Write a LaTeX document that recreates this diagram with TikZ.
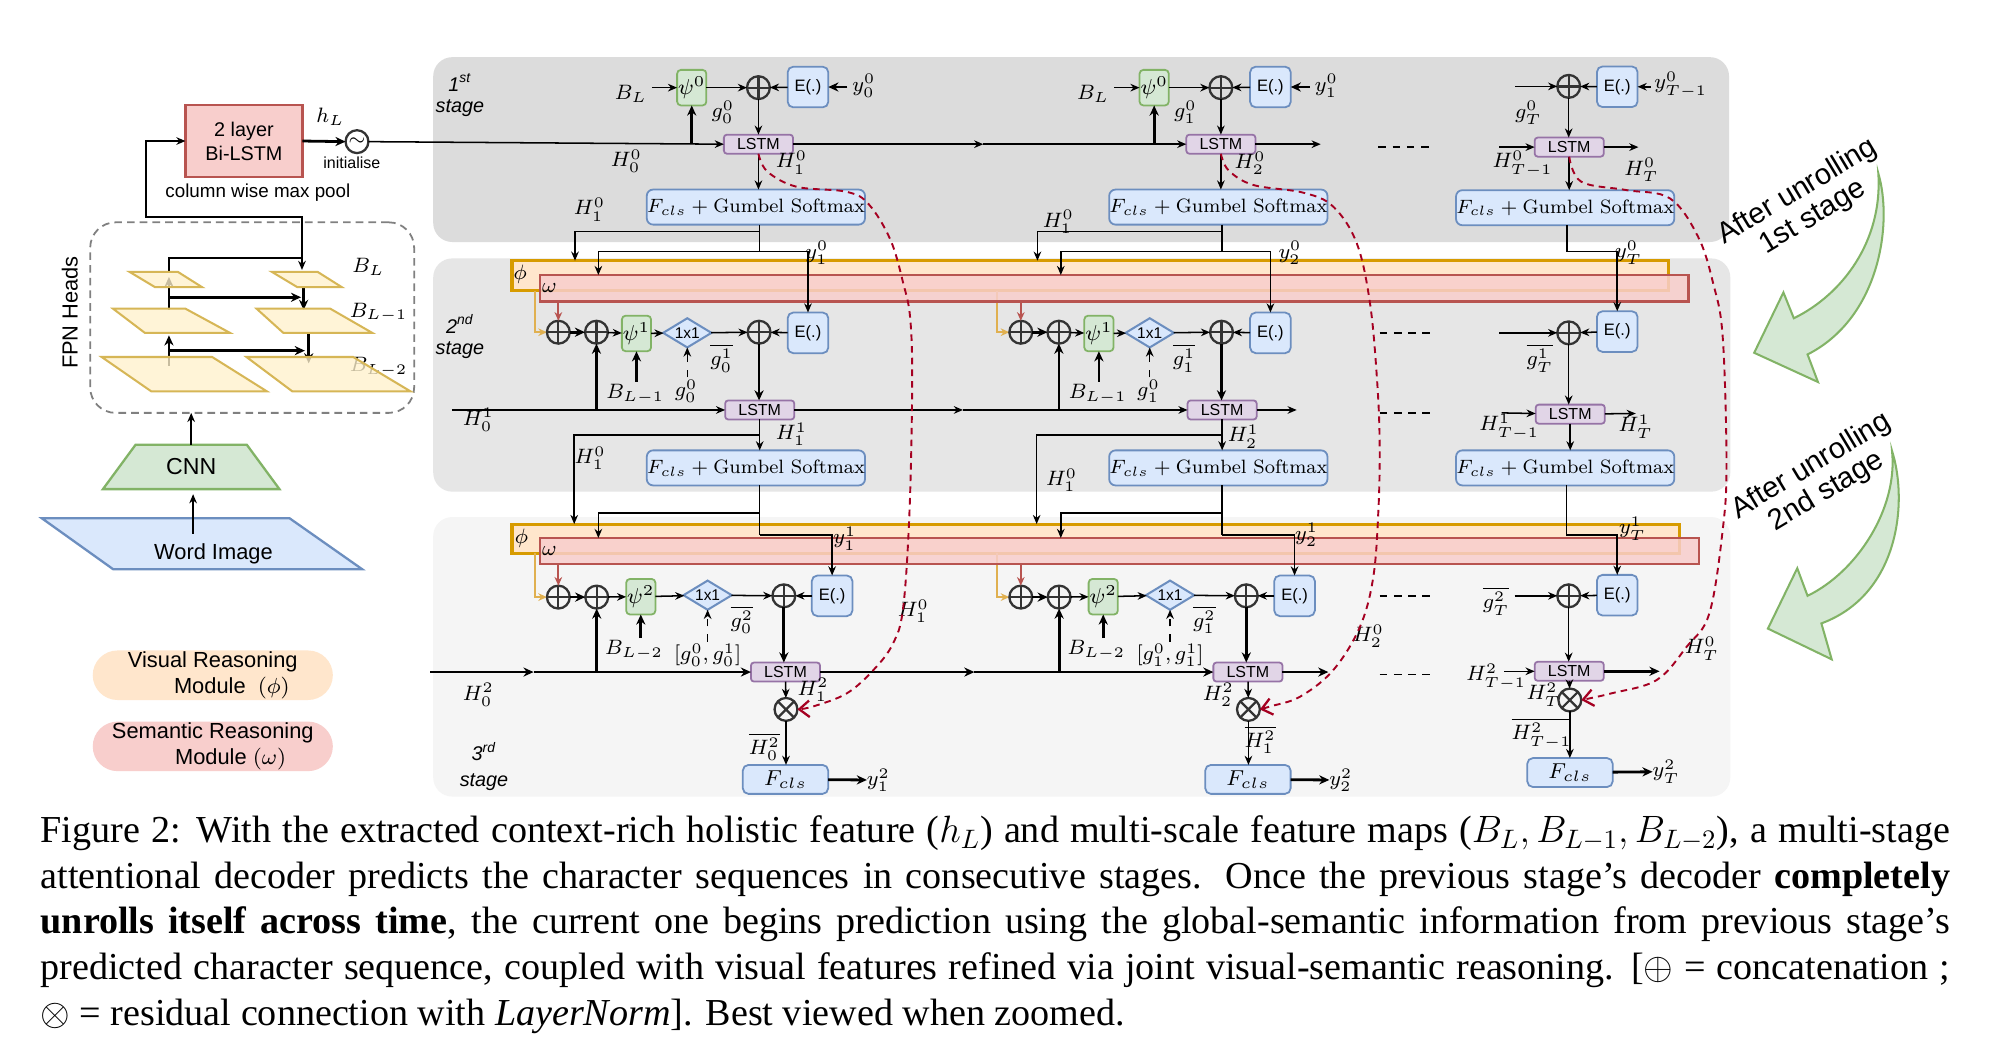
\documentclass[tikz,border=0pt]{standalone}
\usepackage{fix-cm}
\usepackage{fontspec}
\setsansfont{Liberation Sans}
\newfontfamily\capfont[Ligatures=TeX]{Liberation Serif}
\usetikzlibrary{arrows.meta,shapes.geometric}
\definecolor{stgA}{HTML}{DCDCDC}
\definecolor{stgB}{HTML}{E6E6E6}
\definecolor{stgC}{HTML}{F5F5F5}
\definecolor{grnF}{HTML}{D5E8D4}
\definecolor{grnD}{HTML}{82B366}
\definecolor{bluF}{HTML}{DAE8FC}
\definecolor{bluD}{HTML}{6C8EBF}
\definecolor{purF}{HTML}{E1D5E7}
\definecolor{purD}{HTML}{9673A6}
\definecolor{orgF}{HTML}{FFE6CC}
\definecolor{orgD}{HTML}{D79B00}
\definecolor{redF}{HTML}{F8CECC}
\definecolor{redD}{HTML}{B85450}
\definecolor{ylwF}{HTML}{FFF2CC}
\definecolor{ylwD}{HTML}{D6B656}
\definecolor{orL}{HTML}{E0B050}
\definecolor{dred}{HTML}{A50021}
\definecolor{cirD}{HTML}{333333}
\pgfdeclarelayer{bgl}\pgfdeclarelayer{phil}\pgfdeclarelayer{orl}\pgfdeclarelayer{oml}
\pgfsetlayers{bgl,phil,orl,oml,main}
\tikzset{
  every node/.style={inner sep=0pt,outer sep=0pt},
  ln/.style={line width=0.6pt},
  arr/.style={line width=0.6pt,-{Stealth[length=3.6pt,width=3pt]}},
  tarr/.style={line width=1.1pt,-{Stealth[length=4pt,width=3.6pt]}},
  orarr/.style={draw=orL,line width=0.8pt,-{Stealth[length=3.4pt,width=3pt]}},
  redarr/.style={draw=redD,line width=0.8pt,-{Stealth[length=3.4pt,width=3pt]}},
  rdash/.style={draw=dred,line width=0.75pt,dash pattern=on 2.6pt off 2pt,-{Straight Barb[length=4pt,width=6.5pt,line width=0.9pt]}},
  psibox/.style={draw=grnD,fill=grnF,line width=0.7pt,rounded corners=1.5pt,minimum width=11.5pt,minimum height=14pt,font=\fontsize{8.5}{10}\selectfont},
  ebox/.style={draw=bluD,fill=bluF,line width=0.7pt,rounded corners=2.2pt,minimum width=16pt,minimum height=16pt,font=\sffamily\fontsize{6.5}{7}\selectfont},
  lstm/.style={draw=purD,fill=purF,line width=0.7pt,rounded corners=1.2pt,minimum width=27.2pt,minimum height=7.5pt,font=\sffamily\fontsize{6.3}{7}\selectfont},
  fgs/.style={draw=bluD,fill=bluF,line width=0.7pt,rounded corners=2.5pt,minimum width=85.5pt,minimum height=13.8pt,font=\fontsize{7.6}{9}\selectfont},
  fcls/.style={draw=bluD,fill=bluF,line width=0.7pt,rounded corners=2.2pt,minimum width=33.6pt,minimum height=11.4pt,font=\fontsize{8.5}{10}\selectfont},
  onebyone/.style={diamond,draw=bluD,fill=bluF,line width=0.8pt,aspect=1.65,minimum width=19pt,minimum height=11.5pt,font=\sffamily\fontsize{6.1}{7}\selectfont},
  opl/.style={circle,draw=cirD,line width=0.9pt,minimum size=9pt,path picture={\draw[cirD,line width=0.9pt] (path picture bounding box.north)--(path picture bounding box.south) (path picture bounding box.west)--(path picture bounding box.east);}},
  otl/.style={circle,draw=cirD,line width=0.9pt,minimum size=9pt,path picture={\draw[cirD,line width=0.9pt] (path picture bounding box.north west)--(path picture bounding box.south east) (path picture bounding box.north east)--(path picture bounding box.south west);}},
  lab/.style={font=\fontsize{8.2}{9.5}\selectfont},
  stagelab/.style={align=center,font=\sffamily\itshape\fontsize{7.8}{8.4}\selectfont},
  fmap/.style={draw=ylwD,fill=ylwF,line width=0.8pt,fill opacity=0.78},
  phib/.style={draw=orgD,fill=orgF,line width=1.2pt,anchor=north west},
  omb/.style={draw=redD,fill=redF,fill opacity=0.85,line width=1pt,anchor=north west},
  sanslab/.style={font=\sffamily\fontsize{8.6}{10}\selectfont},
  dots/.style={line width=0.7pt,dash pattern=on 3pt off 2.6pt},
}
\newcommand\deccol[3]{%
 \node[psibox] (#1p0) at (544.5,69) {$\psi^0$};
 \node[opl] (#1o0) at (597,69) {};
 \node[ebox] (#1e0) at (636,68.5) {E(.)};
 \node[lstm] (#1l0) at (597,113.5) {LSTM};
 \node[fgs] (#1f0) at (595,163) {$F_{cls}+\mathrm{Gumbel\ Softmax}$};
 \node[lab] (#1BL) at (496.5,74) {$B_L$};
 \node[lab] (#1y0) at (680,67.5) {$y_#2^0$};
 \node[lab] (#1g0) at (569,88.5) {$g_#2^0$};
 \node[opl] (#1a1) at (439.5,261.5) {};
 \node[opl] (#1b1) at (469.5,261.5) {};
 \node[psibox] (#1p1) at (501,262.5) {$\psi^1$};
 \node[onebyone] (#1d1) at (541,262) {1x1};
 \node[opl] (#1o1) at (597.5,261.5) {};
 \node[ebox] (#1e1) at (636,262) {E(.)};
 \node[lstm] (#1l1) at (598,322.7) {LSTM};
 \node[fgs] (#1f1) at (595,368.3) {$F_{cls}+\mathrm{Gumbel\ Softmax}$};
 \node[lab] (#1B1) at (500,310) {$B_{L-1}$};
 \node[lab] (#1g1) at (568,282) {$\overline{g_#2^1}$};
 \node[lab] (#1h1) at (540,308) {$g_#2^0$};
 \node[opl] (#1a2) at (439.5,470) {};
 \node[opl] (#1b2) at (469.7,470) {};
 \node[psibox] (#1p2) at (504.4,469.7) {$\psi^2$};
 \node[onebyone] (#1d2) at (557,468.5) {1x1};
 \node[opl] (#1o2) at (617,469) {};
 \node[ebox] (#1e2) at (655,469) {E(.)};
 \node[lstm] (#1l2) at (618.3,529) {LSTM};
 \node[otl] (#1t2) at (618.7,558.4) {};
 \node[fcls] (#1f2) at (618.3,613.5) {$F_{cls}$};
 \node[lab] (#1B2) at (499,512) {$B_{L-2}$};
 \node[lab] (#1g2) at (584,488) {$\overline{g_#2^2}$};
 \node[lab] (#1h2) at (557,516) {$[g_#2^0,g_#2^1]$};
 \node[lab] (#1y2) at (691.4,614) {$y_#3^2$};
 % stage 1 connectors
 \draw[arr,shorten <=2pt] (#1p0.west -| #1BL.east) -- (#1p0.west);
 \draw[arr] (#1p0) -- (#1o0);
 \draw[arr] (#1e0) -- (#1o0);
 \draw[tarr,shorten <=2pt] (#1e0.east -| #1y0.west) -- (#1e0.east);
 \draw[arr] (#1o0) -- (#1l0);
 \draw[tarr] (#1p0 |- #1l0) -- (#1p0);
 \draw[arr] (#1l0.south) -- (#1l0.south |- #1f0.north);
 \coordinate (#1j1) at (598,182.4); \coordinate (#1j2) at (598,198);
 \coordinate (#1u1) at (452.6,205.2); \coordinate (#1w1) at (471,216.5);
 \draw[ln] (#1j2 |- #1f0.south) -- (#1j2);
 \draw[arr] (#1j1) -| (#1u1);
 \draw[arr] (#1j2) -| (#1w1);
 \draw[arr] (#1j2) -| (#1e1.north);
 % stage 2 connectors
 \coordinate (#1q1) at (421,228.8); \coordinate (#1r1) at (439.5,237.5);
 \begin{pgfonlayer}{orl}\draw[orarr] (#1q1) |- (#1a1);\end{pgfonlayer}
 \draw[redarr] (#1r1) -- (#1a1);
 \draw[tarr] (#1a1) -- (#1b1);
 \draw[arr] (#1b1) -- (#1p1);
 \draw[arr] (#1p1) -- (#1d1);
 \draw[arr] (#1d1) -- (#1o1);
 \draw[arr] (#1e1) -- (#1o1);
 \draw[tarr] (#1o1) -- (#1o1 |- #1l1.north);
 \draw[arr] (#1l1.south) -- (#1l1.south |- #1f1.north);
 \draw[tarr] (#1b1 |- #1l1) -- (#1b1);
 \draw[tarr,shorten <=1pt] (#1p1 |- #1B1.north) -- (#1p1);
 \draw[arr,dashed,shorten <=1pt] (#1d1 |- #1h1.north) -- (#1d1);
 \coordinate (#1k1) at (598,342.4); \coordinate (#1u2) at (452,412.5);
 \draw[arr] (#1k1) -| (#1u2);
 \coordinate (#1k2) at (598,404); \coordinate (#1k3) at (598,421); \coordinate (#1w2) at (471,423.5);
 \draw[ln] (#1k3 |- #1f1.south) -- (#1k3);
 \draw[arr] (#1k2) -| (#1w2);
 \draw[arr] (#1k3) -| (#1e2.north);
 % stage 3 connectors
 \coordinate (#1q2) at (421,435.6); \coordinate (#1r2) at (439.5,444);
 \begin{pgfonlayer}{orl}\draw[orarr] (#1q2) |- (#1a2);\end{pgfonlayer}
 \draw[redarr] (#1r2) -- (#1a2);
 \draw[tarr] (#1a2) -- (#1b2);
 \draw[arr] (#1b2) -- (#1p2);
 \draw[arr] (#1p2) -- (#1d2);
 \draw[arr] (#1d2) -- (#1o2);
 \draw[arr] (#1e2) -- (#1o2);
 \draw[tarr] (#1o2) -- (#1o2 |- #1l2.north);
 \draw[tarr] (#1b2 |- #1l2) -- (#1b2);
 \draw[tarr,shorten <=1pt] (#1p2 |- #1B2.north) -- (#1p2);
 \draw[arr,dashed,shorten <=1pt] (#1d2 |- #1h2.north) -- (#1d2);
 \draw[arr] (#1l2) -- (#1t2);
 \draw[arr] (#1t2) -- (#1t2 |- #1f2.north);
 \draw[tarr] (#1f2) -- (#1y2);
}
\begin{document}
\begin{tikzpicture}[x=0.5pt,y=-0.5pt]
\useasboundingbox (0,0) rectangle (1568,819);
\begin{pgfonlayer}{bgl}
 \fill[white] (0,0) rectangle (1568,819);
 \fill[stgA,rounded corners=7.5pt] (341,45) rectangle (1361,190.5);
 \fill[stgB,rounded corners=7.5pt] (341,203.4) rectangle (1362,387);
 \fill[stgC,rounded corners=7.5pt] (341,407) rectangle (1362,627);
\end{pgfonlayer}
\begin{pgfonlayer}{phil}
 \node[phib,minimum width=455.25pt,minimum height=11.8pt] (phiA) at (403,205.2) {};
 \node[phib,minimum width=459.4pt,minimum height=11.55pt] (phiB) at (403,412.5) {};
\end{pgfonlayer}
\begin{pgfonlayer}{oml}
 \node[omb,minimum width=452pt,minimum height=10.5pt] (omA) at (425,216.5) {};
 \node[omb,minimum width=456.25pt,minimum height=10.25pt] (omB) at (425,423.5) {};
\end{pgfonlayer}
\node[lab] (phiAl) at (409.5,216) {$\phi$};
\node[lab] (omAl) at (432.5,226.5) {$\omega$};
\node[lab] (phiBl) at (410.5,423.5) {$\phi$};
\node[lab] (omBl) at (432.5,433.5) {$\omega$};

% ---------- left part ----------
\node[draw=gray,dash pattern=on 3pt off 2pt,line width=0.7pt,rounded corners=10pt,minimum width=127.5pt,minimum height=75pt] (fpn) at (198.5,250) {};
\node[draw=redD,fill=redF,line width=1pt,minimum width=46pt,minimum height=28.5pt,align=center,font=\sffamily\fontsize{7.8}{9.5}\selectfont] (bilstm) at (192,111) {2 layer\\Bi-LSTM};
\node[circle,draw=cirD,line width=0.9pt,minimum size=9pt,font=\fontsize{8}{8}\selectfont] (init) at (281,111.5) {$\sim$};
\node[font=\sffamily\fontsize{6.3}{7}\selectfont] (initlab) at (277,128) {initialise};
\node[lab] (hL) at (260,92) {$h_L$};
\node[font=\sffamily\fontsize{7.4}{9}\selectfont] (cwmp) at (203,152) {column wise max pool};
\node[sanslab,rotate=90] (fpnl) at (55,246) {FPN Heads};
\draw[tarr] (bilstm.east) -- (init.west);
\coordinate (cwp) at (115,171);
\coordinate (blr) at (237.7,212.5);
\draw[line width=0.8pt,{Stealth[length=3.6pt,width=3pt]}-{Stealth[length=3.6pt,width=3pt]}] (bilstm.west) -| (cwp) -| (blr);
% FPN arrows
\coordinate (fa0) at (133,214); \coordinate (fa1) at (133,203); \coordinate (fa2) at (237.7,203);
\draw[line width=0.8pt] (fa0) -- (fa1) -- (fa2);
\coordinate (fb0) at (133,244); \coordinate (fb1) at (133,218);
\draw[tarr] (fb0) -- (fb1);
\coordinate (fc0) at (133,234); \coordinate (fc1) at (237,234);
\draw[tarr] (fc0) -- (fc1);
\coordinate (fd0) at (239,226); \coordinate (fd1) at (239,244);
\draw[tarr] (fd0) -- (fd1);
\coordinate (fe0) at (133,288); \coordinate (fe1) at (133,264);
\draw[tarr] (fe0) -- (fe1);
\coordinate (ff0) at (133,276); \coordinate (ff1) at (240,276);
\draw[tarr] (ff0) -- (ff1);
\coordinate (fg0) at (243,262); \coordinate (fg1) at (243,286);
\draw[tarr] (fg0) -- (fg1);
\node[lab] (lBL) at (290,210) {$B_L$};
\node[lab] (lBL1) at (298,246) {$B_{L-1}$};
\node[lab] (lBL2) at (298,289) {$B_{L-2}$};
\filldraw[fmap] (102,214) -- (140,214) -- (159,226) -- (122,226) -- cycle;
\filldraw[fmap] (89,243) -- (146,243) -- (181,262) -- (114,262) -- cycle;
\filldraw[fmap] (80,281) -- (167,281) -- (210,308) -- (119,308) -- cycle;
\filldraw[fmap] (214,214) -- (250,214) -- (269,226) -- (234,226) -- cycle;
\filldraw[fmap] (202,243) -- (260,243) -- (293,262) -- (223,262) -- cycle;
\filldraw[fmap] (194,281) -- (278,281) -- (323,308) -- (230,308) -- cycle;
% CNN & word image
\node[trapezium,trapezium left angle=48,trapezium right angle=48,trapezium stretches=true,minimum width=69.5pt,minimum height=17.5pt,draw=grnD,fill=grnF,line width=0.9pt,font=\sffamily\fontsize{9.1}{10}\selectfont] (cnn) at (150.5,367.5) {CNN};
\draw[arr] (cnn.north) -- (cnn.north |- fpn.south);
\filldraw[draw=bluD,fill=bluF,line width=0.9pt] (33,408) -- (228,408) -- (285,448) -- (89,448) -- cycle;
\node[sanslab] (wimg) at (168,436) {Word Image};
\coordinate (wimgc) at (152,420);
\draw[arr,shorten >=2pt] (wimgc) -- (wimgc |- cnn.south);
\node[fill=orgF,rounded corners=9.75pt,minimum width=94.5pt,minimum height=19.5pt,align=center,font=\sffamily\fontsize{8.6}{10}\selectfont] (vrm) at (167.5,531.5) {Visual Reasoning\\\hspace*{15pt}Module~~$(\phi)$};
\node[fill=redF,rounded corners=9.75pt,minimum width=94.5pt,minimum height=19.5pt,align=center,font=\sffamily\fontsize{8.6}{10}\selectfont] (srm) at (167.5,587.5) {Semantic Reasoning\\\hspace*{14pt}Module~$(\omega)$};

% stage labels
\node[stagelab] (st1) at (362,75) {1\textsuperscript{st}\\stage};
\node[stagelab] (st2) at (362,265) {2\textsuperscript{nd}\\stage};
\node[stagelab,font=\sffamily\itshape\fontsize{7.8}{10}\selectfont] (st3) at (381,603) {3\textsuperscript{rd}\\stage};

% ---------- columns ----------
\deccol{a}{0}{1}
\begin{scope}[shift={(364,0)}]
\deccol{b}{1}{2}
\end{scope}

% H lines
\draw[arr] (init.east) -- (al0.west);
\coordinate (hm1) at (774,113.5);
\draw[arr] (al0) -- (hm1); \draw[arr] (hm1) -- (bl0);
\coordinate (bo0) at (1039.6,113.5); \draw[arr] (bl0) -- (bo0);
\coordinate (hs2) at (355.6,322.7); \draw[arr] (hs2) -- (al1);
\coordinate (hm2) at (758,322.7);
\draw[arr] (al1) -- (hm2); \draw[arr] (hm2) -- (bl1);
\coordinate (bo1) at (1020.7,322.7); \draw[arr] (bl1) -- (bo1);
\coordinate (hs3) at (338.5,529); \coordinate (hm3a) at (420,529);
\draw[tarr] (hs3) -- (hm3a); \draw[tarr] (hm3a) -- (al2);
\coordinate (hm3) at (767,529);
\draw[tarr] (al2) -- (hm3); \draw[tarr] (hm3) -- (bl2);
\coordinate (bo2) at (1045.6,529); \draw[tarr] (bl2) -- (bo2);

% column labels
\node[lab] (aH00) at (493,127) {$H_0^0$};
\node[lab] (aH10) at (623,128) {$H_1^0$};
\node[lab] (aH10b) at (464,165) {$H_1^0$};
\node[lab] (ay10) at (643,199) {$y_1^0$};
\node[lab] (aH01) at (376.5,330.6) {$H_0^1$};
\node[lab] (aH11) at (623,342) {$H_1^1$};
\node[lab] (aH10c) at (464.5,360.8) {$H_1^0$};
\node[lab] (ay11) at (665,424) {$y_1^1$};
\node[lab] (aH02) at (376.5,547) {$H_0^2$};
\node[lab] (aH12) at (640,543) {$H_1^2$};
\node[lab] (aHb) at (601.7,587.8) {$\overline{H_0^2}$};
\node[lab] (aHc) at (719,481) {$H_1^0$};
\node[lab] (bH20) at (984,128.6) {$H_2^0$};
\node[lab] (bH10b) at (833,174.5) {$H_1^0$};
\node[lab] (by20) at (1015.4,199) {$y_2^0$};
\node[lab] (bH21) at (978.7,343.7) {$H_2^1$};
\node[lab] (bH10c) at (835.7,378) {$H_1^0$};
\node[lab] (by21) at (1028.5,421) {$y_2^1$};
\node[lab] (bH22) at (959,547) {$H_2^2$};
\node[lab] (bHb) at (991.8,582.5) {$\overline{H_1^2}$};
\node[lab] (bHc) at (1077,501) {$H_2^0$};

% ---------- column T ----------
\node[opl] (to0) at (1234.8,68) {};
\node[ebox] (te0) at (1273,68.3) {E(.)};
\node[lab] (ty0) at (1323,67) {$y_{T-1}^0$};
\node[lab] (tg0) at (1203,89) {$g_T^0$};
\node[lstm] (tl0) at (1235.2,115.8) {LSTM};
\node[lab] (tH0) at (1198.5,129) {$H_{T-1}^0$};
\node[lab] (tHT0) at (1292,134) {$H_T^0$};
\node[fgs] (tf0) at (1232,163.5) {$F_{cls}+\mathrm{Gumbel\ Softmax}$};
\node[lab] (tyT0) at (1282,199) {$y_T^0$};
\node[opl] (to1) at (1234.8,262) {};
\node[ebox] (te1) at (1273,261) {E(.)};
\node[lab] (tg1) at (1212,282) {$\overline{g_T^1}$};
\node[lstm] (tl1) at (1236,326) {LSTM};
\node[lab] (tH1) at (1188,336) {$H_{T-1}^1$};
\node[lab] (tHT1) at (1287.6,336) {$H_T^1$};
\node[fgs] (tf1) at (1232,368.3) {$F_{cls}+\mathrm{Gumbel\ Softmax}$};
\node[lab] (tyT1) at (1285,416) {$y_T^1$};
\node[opl] (to2) at (1234.8,469) {};
\node[ebox] (te2) at (1273,468.5) {E(.)};
\node[lab] (tg2) at (1177.7,473) {$\overline{g_T^2}$};
\node[lstm] (tl2) at (1235.2,528.4) {LSTM};
\node[lab] (tH2) at (1177.7,532.7) {$H_{T-1}^2$};
\node[otl] (tt2) at (1235.7,551) {};
\node[lab] (tHT2) at (1215,547) {$H_T^2$};
\node[lab] (tHb) at (1213.4,577.3) {$\overline{H_{T-1}^2}$};
\node[fcls] (tf2) at (1235.8,608.1) {$F_{cls}$};
\node[lab] (tyT2) at (1311.4,607.4) {$y_T^2$};
\node[lab] (tHc) at (1339.6,510.4) {$H_T^0$};
% T connectors
\draw[arr,shorten <=1.5pt] (te0.east -| ty0.west) -- (te0.east);
\draw[arr] (te0) -- (to0);
\coordinate (tin0) at (1192.6,68); \draw[arr] (tin0) -- (to0);
\draw[arr] (to0) -- (to0 |- tl0.north);
\coordinate (thin0) at (1180,115.8); \draw[arr] (thin0) -- (tl0);
\coordinate (thout0) at (1289.7,115.8); \draw[arr] (tl0) -- (thout0);
\draw[arr] (tl0.south) -- (tl0.south |- tf0.north);
\coordinate (tj0) at (1233.6,198);
\draw[arr] (tj0 |- tf0.south) -- (tj0) -| (te1.north);
\draw[arr] (te1) -- (to1);
\coordinate (tin1) at (1180,262); \draw[arr] (tin1) -- (to1);
\draw[arr] (to1) -- (to1 |- tl1.north);
\coordinate (thin1) at (1182,325); \draw[arr] (thin1) -- (tl1);
\coordinate (thout1) at (1287.6,325.5); \draw[arr] (tl1) -- (thout1);
\draw[arr] (tl1.south) -- (tl1.south |- tf1.north);
\coordinate (tj1) at (1233,421);
\draw[arr] (tj1 |- tf1.south) -- (tj1) -| (te2.north);
\draw[arr] (te2) -- (to2);
\draw[arr,shorten <=2pt] (tg2.east |- to2) -- (to2);
\draw[arr] (to2) -- (to2 |- tl2.north);
\coordinate (thin2) at (1184,528.4); \draw[arr] (thin2) -- (tl2);
\coordinate (thout2) at (1306.3,528.4); \draw[tarr] (tl2) -- (thout2);
\draw[arr] (tl2) -- (tt2);
\draw[arr] (tt2) -- (tt2 |- tf2.north);
\draw[tarr] (tf2) -- (tyT2);

% ellipsis dashes
\draw[dots] (1085,116) -- (1128,116);
\draw[dots] (1086,262) -- (1128,262);
\draw[dots] (1086,325) -- (1128,325);
\draw[dots] (1086,469) -- (1128,469);
\draw[dots] (1086,531) -- (1128,531);

% red dashed residual curves
\draw[rdash] plot[smooth,tension=0.6] coordinates {(al0.south) (604,135) (627,147) (666.5,151) (684,161) (701,189) (711,223) (716.4,250) (718,300) (716,400) (711,477.6) (703,506.4) (687.5,527.4) (666.5,545.8) (640.3,556) (at2.east)};
\draw[rdash] plot[smooth,tension=0.6] coordinates {(bl0.south) (967,134) (986.5,145.6) (1026,151.7) (1049.5,162.7) (1068,191.6) (1078.4,238.8) (1084,300) (1086,350) (1085,401.5) (1081,454) (1070.5,493.3) (1049.5,527.4) (1023.3,548.4) (1000,556) (bt2.east)};
\draw[rdash] plot[smooth,tension=0.6] coordinates {(tl0.south) (1244.6,143) (1280,149.6) (1314.4,156.1) (1336.6,186.3) (1348.5,223) (1356,265) (1359,364.7) (1356,417.2) (1345.5,482.8) (1327.7,509) (1304,535.3) (1268.3,545.8) (tt2.east)};

% green curved arrows
\filldraw[draw=grnD,fill=grnF,line width=0.8pt] (1478.5,136.5) .. controls (1490,175) and (1480,250) .. (1422.8,279) -- (1431,300.7) -- (1380.8,277.7) -- (1403.8,230.2) -- (1412,250.5) .. controls (1450,232) and (1482,190) .. (1478.5,136.5) -- cycle;
\filldraw[draw=grnD,fill=grnF,line width=0.8pt] (1489.3,355) .. controls (1502,395) and (1495,468) .. (1433.7,490.7) -- (1441.8,519) -- (1391.6,494.8) -- (1414.7,447.3) -- (1422.8,469) .. controls (1462,450) and (1494,400) .. (1489.3,355) -- cycle;
\node[rotate=31,align=center,font=\sffamily\fontsize{11.5}{11.7}\selectfont] (unr1) at (1421,161) {After unrolling\\1st stage};
\node[rotate=31,align=center,font=\sffamily\fontsize{11.5}{11.7}\selectfont] (unr2) at (1432,377) {After unrolling\\2nd stage};

% caption
\node[anchor=north west,text width=751.5pt,align=justify,font=\capfont\fontsize{15}{18}\selectfont] (caption) at (32,642) {Figure 2: With the extracted context-rich holistic feature ($h_L$) and multi-scale feature maps ($B_L, B_{L-1}, B_{L-2}$), a multi-stage\linebreak attentional decoder predicts the character sequences in consecutive stages. Once the previous stage's decoder \textbf{completely}\linebreak \textbf{unrolls itself across time}, the current one begins prediction using the global-semantic information from previous stage's\linebreak predicted character sequence, coupled with visual features refined via joint visual-semantic reasoning. [$\oplus$ = concatenation ;\linebreak $\otimes$ = residual connection with \textit{LayerNorm}]. Best viewed when zoomed.};
\end{tikzpicture}
\end{document}
